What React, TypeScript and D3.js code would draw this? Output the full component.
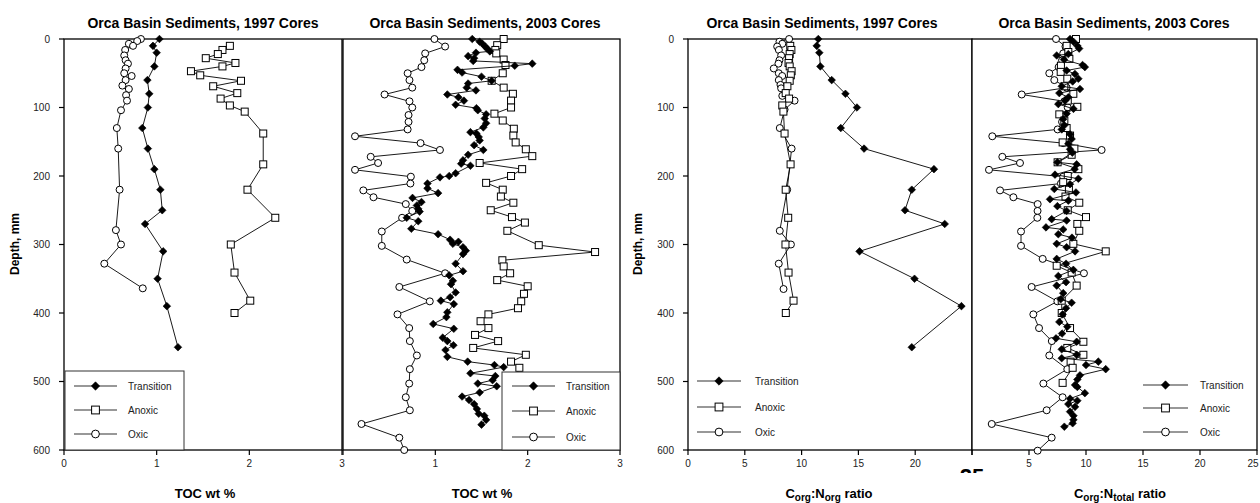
import React from "react";
import * as d3 from "d3";

// [depth mm, value]
type Pt = [number, number];

const depthTicks = [0, 100, 200, 300, 400, 500, 600];
const tocTicks = [0, 1, 2, 3];
const ratioTicks = [0, 5, 10, 15, 20, 25];
const seriesNames = ["Transition", "Anoxic", "Oxic"];

// TOC wt %, 1997 cores
const transition1997Toc: Pt[] = [[0,1.03],[10,0.96],[20,1.0],[40,0.975],[60,0.9],[80,0.92],[100,0.905],[130,0.845],[160,0.905],[190,0.975],[220,1.04],[250,1.06],[270,0.875],[310,1.07],[350,1.01],[390,1.11],[450,1.23]];
const anoxic1997Toc: Pt[] = [[10,1.79],[16,1.71],[22,1.66],[28,1.53],[35,1.85],[40,1.71],[47,1.37],[53,1.47],[61,1.91],[69,1.61],[79,1.87],[87,1.69],[97,1.79],[106,1.95],[138,2.15],[183,2.15],[220,1.98],[261,2.28],[300,1.8],[341,1.84],[382,2.01],[400,1.84]];
const oxic1997Toc: Pt[] = [[0,0.83],[3,0.79],[7,0.7],[10,0.745],[16,0.66],[24,0.65],[31,0.665],[36,0.69],[43,0.665],[50,0.65],[54,0.73],[60,0.665],[68,0.63],[73,0.7],[82,0.67],[90,0.68],[104,0.615],[130,0.57],[160,0.585],[220,0.6],[279,0.56],[300,0.615],[328,0.435],[364,0.85]];

// TOC wt %, 2003 cores
const transition2003Toc: Pt[] = [[0,1.4],[4,1.48],[7,1.51],[11,1.54],[14,1.56],[18,1.59],[20,1.44],[25,1.355],[28,1.42],[32,1.41],[36,2.05],[39,1.86],[45,1.24],[49,1.29],[55,1.5],[61,1.61],[65,1.355],[71,1.34],[75,1.44],[81,1.13],[85,1.25],[90,1.31],[96,1.22],[101,1.445],[104,1.46],[110,1.55],[116,1.535],[123,1.55],[129,1.52],[136,1.38],[138,1.445],[143,1.47],[148,1.48],[155,1.42],[162,1.52],[169,1.355],[177,1.3],[182,1.28],[185,1.38],[196,1.22],[200,1.15],[202,1.05],[211,0.915],[218,0.915],[225,1.03],[232,0.753],[238,0.85],[243,0.8],[248,0.815],[252,0.83],[261,0.69],[266,0.815],[277,0.74],[285,1.03],[293,1.16],[296,1.25],[299,1.19],[304,1.3],[309,1.33],[314,1.3],[328,1.22],[339,1.3],[345,1.15],[353,1.19],[358,1.17],[370,1.22],[377,1.16],[382,1.06],[387,1.2],[399,1.13],[406,1.12],[416,0.977],[423,1.2],[436,1.08],[441,1.13],[447,1.196],[454,1.11],[464,1.13],[471,1.35],[476,1.64],[479,1.74],[488,1.38],[492,1.65],[498,1.62],[503,1.46],[507,1.665],[516,1.48],[522,1.29],[527,1.365],[533,1.42],[540,1.45],[547,1.47],[550,1.53],[556,1.55],[563,1.5]];
const anoxic2003Toc: Pt[] = [[0,1.74],[9,1.67],[16,1.65],[21,1.66],[30,1.74],[38,1.76],[50,1.73],[61,1.61],[71,1.74],[80,1.84],[90,1.82],[100,1.82],[109,1.64],[119,1.73],[131,1.85],[141,1.845],[151,1.87],[161,1.98],[171,2.05],[181,1.48],[190,1.94],[200,1.82],[210,1.55],[220,1.73],[230,1.71],[239,1.845],[250,1.6],[260,1.83],[268,1.97],[280,1.78],[301,2.12],[311,2.73],[323,1.726],[332,1.74],[342,1.81],[352,1.67],[361,2.0],[372,1.96],[383,1.93],[393,1.895],[402,1.575],[412,1.49],[422,1.575],[432,1.43],[441,1.68],[451,1.41],[461,1.98],[471,1.82],[480,1.91],[493,1.87]];
const oxic2003Toc: Pt[] = [[0,0.99],[11,1.106],[21,0.89],[31,0.88],[41,0.85],[50,0.7],[60,0.72],[71,0.75],[81,0.45],[91,0.72],[100,0.75],[111,0.71],[121,0.71],[132,0.7],[142,0.13],[152,0.84],[162,1.05],[172,0.3],[181,0.38],[191,0.13],[201,0.735],[211,0.73],[221,0.22],[231,0.33],[241,0.68],[251,0.75],[261,0.64],[281,0.42],[302,0.42],[322,0.69],[342,1.106],[362,0.61],[383,0.94],[402,0.59],[422,0.717],[441,0.724],[462,0.8],[482,0.724],[503,0.717],[523,0.68],[542,0.724],[562,0.2],[582,0.61],[600,0.663]];

// Corg:Norg ratio, 1997 cores
const transition1997Ratio: Pt[] = [[0,11.47],[10,11.33],[20,11.56],[40,11.65],[60,12.65],[80,13.86],[100,14.87],[130,13.45],[160,15.5],[190,21.65],[220,19.7],[250,19.1],[270,22.6],[310,15.1],[350,19.94],[390,24.07],[450,19.7]];
const anoxic1997Ratio: Pt[] = [[10,9.0],[16,9.1],[22,8.95],[28,8.9],[35,8.85],[40,8.95],[47,9.12],[53,9.05],[61,8.95],[69,8.75],[79,8.6],[87,8.9],[97,8.3],[106,8.4],[138,8.5],[183,9.03],[220,8.6],[261,8.82],[300,8.58],[341,8.85],[382,9.29],[400,8.61]];
const oxic1997Ratio: Pt[] = [[0,8.9],[4,8.05],[7,8.3],[11,7.85],[16,8.0],[24,8.2],[31,8.05],[36,7.96],[43,7.55],[50,7.99],[54,8.29],[60,7.99],[67,8.14],[72,8.2],[83,8.3],[90,9.38],[103,8.5],[130,8.08],[160,9.12],[220,8.73],[280,8.08],[300,9.06],[328,7.99],[365,8.41]];

// Corg:Ntotal ratio, 2003 cores
const transition2003Ratio: Pt[] = [[0,8.6],[4,8.9],[10,9.24],[14,9.4],[22,8.45],[24,7.43],[30,8.07],[38,9.7],[41,9.9],[46,8.3],[51,9.03],[58,9.33],[62,8.83],[69,7.87],[73,9.47],[79,7.66],[85,8.45],[90,8.16],[95,7.57],[102,8.9],[109,8.3],[117,8.0],[126,8.1],[132,7.87],[139,8.6],[146,8.74],[153,8.45],[161,8.6],[166,8.8],[180,7.49],[183,9.18],[190,9.0],[198,7.28],[204,9.33],[212,8.6],[219,7.22],[224,9.12],[234,6.84],[236,8.45],[244,7.49],[251,8.3],[263,6.99],[265,8.3],[275,6.49],[278,8.0],[285,7.57],[290,8.77],[299,7.43],[304,8.3],[310,9.04],[321,7.43],[328,8.25],[337,8.89],[346,7.57],[355,8.25],[360,7.43],[371,8.0],[380,7.78],[385,8.74],[393,8.25],[402,7.95],[413,7.66],[420,8.36],[430,7.9],[437,7.37],[442,9.18],[453,7.87],[461,9.18],[466,7.87],[471,11.08],[476,10.0],[482,11.73],[491,9.47],[497,9.24],[505,9.04],[508,9.24],[517,9.9],[525,8.6],[528,9.24],[533,8.45],[537,9.04],[544,8.6],[550,8.9],[556,8.9],[561,8.83],[566,8.1]];
const anoxic2003Ratio: Pt[] = [[0,9.12],[10,8.3],[19,8.45],[29,8.54],[39,7.8],[48,7.78],[58,8.36],[69,8.1],[80,8.89],[90,8.4],[99,9.24],[110,7.66],[119,8.1],[130,8.3],[141,8.6],[151,7.95],[160,8.98],[169,8.74],[180,7.51],[190,9.33],[200,8.4],[209,8.0],[220,8.5],[230,8.2],[239,9.41],[250,8.4],[260,10.0],[270,9.24],[280,9.41],[299,8.89],[310,11.73],[331,7.43],[341,8.74],[360,9.18],[382,7.87],[400,7.87],[422,8.6],[442,9.77],[451,8.36],[461,9.77],[471,8.65],[480,8.83],[502,7.95]];
const oxic2003Ratio: Pt[] = [[0,7.37],[11,8.2],[21,8.0],[31,7.9],[41,7.6],[50,6.78],[60,7.22],[71,8.3],[81,4.36],[91,8.1],[100,8.4],[111,8.0],[121,7.9],[132,7.51],[142,1.78],[152,8.0],[162,11.37],[172,2.66],[181,4.21],[191,1.49],[201,8.0],[211,7.8],[221,2.46],[231,3.63],[241,5.76],[251,5.75],[261,5.73],[281,4.3],[302,4.3],[321,6.2],[342,9.82],[362,5.23],[383,7.49],[402,5.38],[422,5.88],[441,7.0],[462,6.78],[482,8.36],[503,6.26],[523,7.95],[542,6.55],[562,1.73],[582,6.99],[601,5.76]];

const FONT = "'Liberation Sans', Arial, Helvetica, sans-serif";
const TOP = 39;
const BOTTOM = 450;
const PAGE_W = 1260;

function Marker({ kind, x, y, big }: { kind: number; x: number; y: number; big?: boolean }) {
  const s = big ? 4.2 : 3.8;
  if (kind === 0) {
    return <path d={`M${x},${y - s}L${x + s},${y}L${x},${y + s}L${x - s},${y}Z`} fill="#000" stroke="#000" strokeWidth={0.6} />;
  }
  if (kind === 1) {
    return <rect x={x - s + 0.3} y={y - s + 0.3} width={2 * s - 0.6} height={2 * s - 0.6} fill="#fff" stroke="#000" strokeWidth={1} />;
  }
  return <circle cx={x} cy={y} r={s - 0.3} fill="#fff" stroke="#000" strokeWidth={1} />;
}

function Panel(p: any) {
  const x = d3.scaleLinear().domain([0, p.xMax]).range([p.left, p.right]);
  const y = d3.scaleLinear().domain([0, 600]).range([TOP, BOTTOM]);
  const line = d3.line<Pt>().x((d) => x(d[1])).y((d) => y(d[0]));
  const series: Pt[][] = [p.transition, p.anoxic, p.oxic];
  const order = [2, 1, 0];
  const lg = p.legend;

  return (
    <g>
      <rect x={p.left} y={TOP} width={p.right - p.left} height={BOTTOM - TOP} fill="#fff" stroke="#000" strokeWidth={1.3} />
      <text x={p.titleX} y={28} textAnchor="middle" fontSize={14} fontWeight="bold" fill="#000">{p.title}</text>

      {p.depthLabels && depthTicks.map((t) => (
        <g key={t}>
          <line x1={p.left - 5} x2={p.left} y1={y(t)} y2={y(t)} stroke="#000" strokeWidth={1.2} />
          <text x={p.left - 14} y={y(t) + 3.5} textAnchor="end" fontSize={10} fill="#222">{t}</text>
        </g>
      ))}
      {p.depthLabels && (
        <text transform={`translate(${p.depthTitleX},244) rotate(-90)`} textAnchor="middle" fontSize={12} fontWeight="bold" fill="#000">Depth, mm</text>
      )}

      {p.xTicks.map((t: number) => (
        <g key={t}>
          <line x1={x(t)} x2={x(t)} y1={BOTTOM} y2={BOTTOM + 5} stroke="#000" strokeWidth={1.2} />
          {p.xTickLabels.includes(t) && (
            <text x={Math.min(x(t), PAGE_W - 7)} y={467} textAnchor="middle" fontSize={10} fill="#222">{t}</text>
          )}
        </g>
      ))}
      <text x={p.xTitleX} y={498} textAnchor="middle" fontSize={13} fontWeight="bold" fill="#000">{p.xTitle}</text>

      {order.map((k) => (
        <g key={k}>
          <path d={line(series[k]) || ""} fill="none" stroke="#000" strokeWidth={0.9} />
          {series[k].map((d, i) => (
            <Marker key={i} kind={k} x={x(d[1])} y={y(d[0])} />
          ))}
        </g>
      ))}

      {lg.box && (
        <rect x={lg.boxX0} y={lg.boxTop} width={lg.boxX1 - lg.boxX0} height={BOTTOM - lg.boxTop} fill="#fff" stroke="#333" strokeWidth={1} />
      )}
      {seriesNames.map((name, k) => (
        <g key={name}>
          <line x1={lg.lineX0} x2={lg.lineX1} y1={lg.rows[k]} y2={lg.rows[k]} stroke="#333" strokeWidth={1.2} />
          <Marker kind={k} x={(lg.lineX0 + lg.lineX1) / 2} y={lg.rows[k]} big />
          <text x={lg.textX} y={lg.rows[k] + 3.5} fontSize={10} fill="#222">{name}</text>
        </g>
      ))}
    </g>
  );
}

function RatioTitle({ sub }: { sub: string }) {
  return (
    <>
      C<tspan fontSize={10} dy={3}>org</tspan>
      <tspan dy={-3}>:N</tspan>
      <tspan fontSize={10} dy={3}>{sub}</tspan>
      <tspan dy={-3}> ratio</tspan>
    </>
  );
}

export default function App() {
  return (
    <svg width={1260} height={503} style={{ position: "absolute", left: 0, top: 0, background: "#fff" }} fontFamily={FONT}>
      <rect width={1260} height={503} fill="#fff" />
      <defs>
        <clipPath id="cut25">
          <rect x={955} y={467} width={35} height={6} />
        </clipPath>
      </defs>
      <Panel
        left={64} right={342} xMax={3} xTicks={tocTicks} xTickLabels={tocTicks}
        depthLabels depthTitleX={19}
        title="Orca Basin Sediments, 1997 Cores" titleX={203}
        xTitle="TOC wt %" xTitleX={205}
        transition={transition1997Toc} anoxic={anoxic1997Toc} oxic={oxic1997Toc}
        legend={{ box: true, boxX0: 65, boxX1: 184, boxTop: 371, lineX0: 74, lineX1: 117, textX: 128, rows: [386, 410, 434] }}
      />
      <Panel
        left={343} right={620} xMax={3} xTicks={tocTicks} xTickLabels={[1, 2, 3]}
        depthLabels={false}
        title="Orca Basin Sediments, 2003 Cores" titleX={485}
        xTitle="TOC wt %" xTitleX={482}
        transition={transition2003Toc} anoxic={anoxic2003Toc} oxic={oxic2003Toc}
        legend={{ box: true, boxX0: 502, boxX1: 620, boxTop: 372, lineX0: 512, lineX1: 555, textX: 566, rows: [386, 411, 437] }}
      />
      <Panel
        left={688} right={972} xMax={25} xTicks={ratioTicks} xTickLabels={[0, 5, 10, 15, 20]}
        depthLabels depthTitleX={642}
        title="Orca Basin Sediments, 1997 Cores" titleX={822}
        xTitle={<RatioTitle sub="org" />} xTitleX={829}
        transition={transition1997Ratio} anoxic={anoxic1997Ratio} oxic={oxic1997Ratio}
        legend={{ box: false, lineX0: 697, lineX1: 741, textX: 755, rows: [381, 407, 432] }}
      />
      <text x={972} y={484} textAnchor="middle" fontSize={22} fontWeight="bold" fill="#000" clipPath="url(#cut25)">25</text>
      <Panel
        left={972} right={1257} xMax={25} xTicks={ratioTicks} xTickLabels={[5, 10, 15, 20, 25]}
        depthLabels={false}
        title="Orca Basin Sediments, 2003 Cores" titleX={1114}
        xTitle={<RatioTitle sub="total" />} xTitleX={1120}
        transition={transition2003Ratio} anoxic={anoxic2003Ratio} oxic={oxic2003Ratio}
        legend={{ box: false, lineX0: 1143, lineX1: 1188, textX: 1200, rows: [385, 408, 432] }}
      />
    </svg>
  );
}
